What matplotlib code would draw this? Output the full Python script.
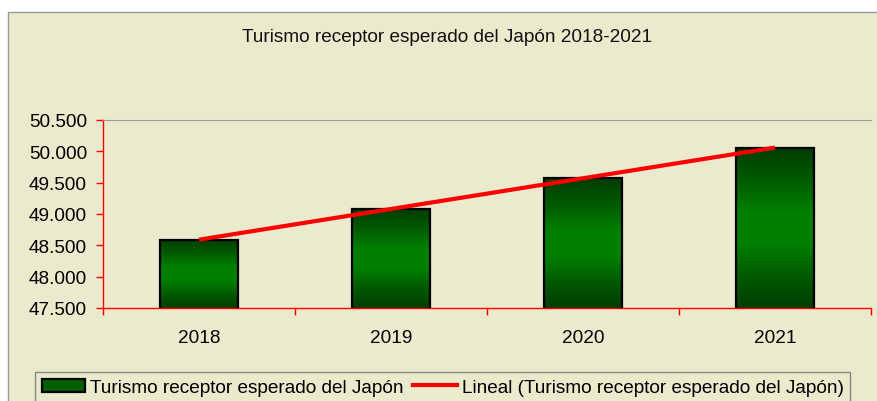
import numpy as np
import matplotlib.pyplot as plt
from matplotlib.colors import LinearSegmentedColormap
from matplotlib.patches import Rectangle, Patch
from matplotlib.lines import Line2D
from matplotlib.ticker import FuncFormatter

years = ['2018', '2019', '2020', '2021']
visitors = [48590, 49080, 49570, 50060]
series_name = 'Turismo receptor esperado del Japón'
trend_name = 'Lineal (Turismo receptor esperado del Japón)'
title = 'Turismo receptor esperado del Japón 2018-2021'

bg = '#ECEACD'
plt.rcParams['font.family'] = ['Liberation Sans', 'DejaVu Sans']
plt.rcParams['font.size'] = 13.7

fig = plt.figure(figsize=(8.77, 4.02), dpi=100, facecolor='white')
# chart area box (starts a bit inside the picture, runs off right and bottom)
fig.patches.append(Rectangle((8 / 877, -0.05), 1.2, 1.05 - 13 / 402, transform=fig.transFigure,
                             facecolor=bg, edgecolor='#9A9A9A', lw=1, zorder=-5))

ax = fig.add_axes([103 / 877, (402 - 309) / 402, 768 / 877, 188 / 402])
ax.set_zorder(2)
ax.set_facecolor(bg)

ymin, ymax = 47500, 50500
x = np.arange(len(years))
w = 0.406

green = LinearSegmentedColormap.from_list('g', ['#003C00', '#005A00', '#007F00', '#007F00', '#005A00', '#003C00'])
grad = np.linspace(0, 1, 256).reshape(-1, 1)

bars = ax.bar(x, visitors, width=w, facecolor='none', edgecolor='black', linewidth=1.6, zorder=3)
for b, v in zip(bars, visitors):
    im = ax.imshow(grad, cmap=green, aspect='auto', zorder=2,
                   extent=(b.get_x(), b.get_x() + w, ymin, v), origin='lower')
    im.set_clip_path(b)

# linear trend line
coef = np.polyfit(x, visitors, 1)
ax.plot(x, np.polyval(coef, x), color='#FF0000', lw=3, solid_capstyle='butt', zorder=4)

ax.set_xlim(-0.5, len(years) - 0.5)
ax.set_ylim(ymin, ymax)
ax.set_yticks(np.arange(ymin, ymax + 1, 500))
ax.yaxis.set_major_formatter(FuncFormatter(lambda v, p: f'{v:,.0f}'.replace(',', '.')))

ax.set_xticks(np.arange(-0.5, len(years), 1.0))
ax.set_xticklabels([])
ax.set_xticks(x, minor=True)
ax.set_xticklabels(years, minor=True)
ax.tick_params(axis='x', which='major', direction='out', length=5, color='red', width=1)
ax.tick_params(axis='x', which='minor', length=0, pad=15)
ax.tick_params(axis='y', direction='out', length=5, color='red', width=1, pad=6.5)

for s in ['left', 'bottom']:
    ax.spines[s].set_color('red')
    ax.spines[s].set_linewidth(1)
ax.spines['top'].set_color('#9A9A9A')
ax.spines['right'].set_visible(False)

fig.text(447 / 877, 1 - 38 / 402, title, ha='center', va='center', color='#111111')

handles = [Patch(facecolor='#006000', edgecolor='black', linewidth=1.6),
           Line2D([0], [0], color='#FF0000', lw=3)]
leg = fig.legend(handles, [series_name, trend_name], ncol=2, loc='upper left',
                 bbox_to_anchor=(35 / 877, 1 - 373 / 402), frameon=True, fancybox=False,
                 handlelength=2.3, handletextpad=0.25, columnspacing=0.5, borderpad=0.35,
                 borderaxespad=0)
leg.get_frame().set_edgecolor('#707070')
leg.get_frame().set_facecolor(bg)
leg.get_frame().set_linewidth(1)

fig.savefig('out.png', dpi=100)
